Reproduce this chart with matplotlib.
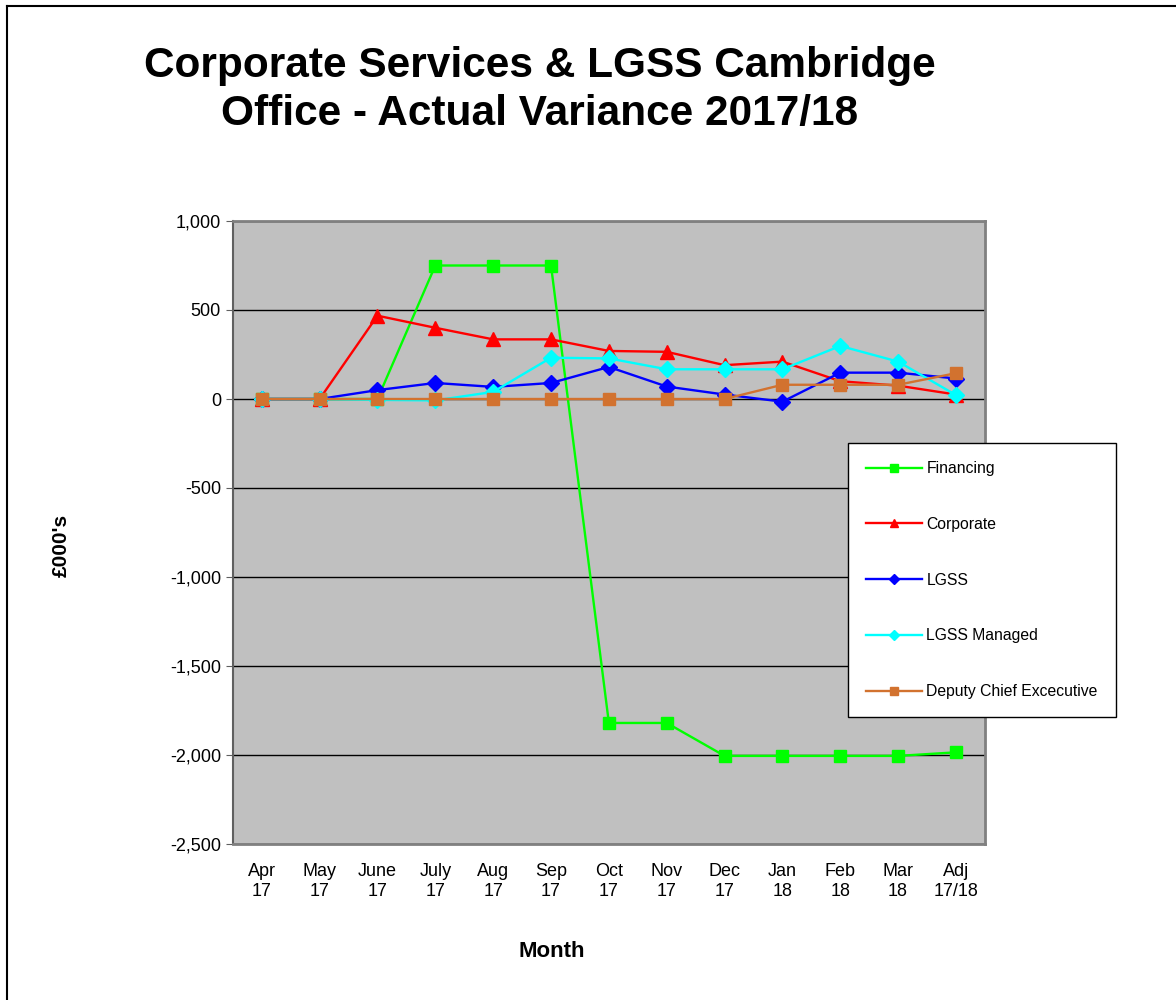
import matplotlib
matplotlib.use("Agg")
import matplotlib.pyplot as plt
from matplotlib.lines import Line2D

plt.rcParams['font.family'] = ['Liberation Sans', 'DejaVu Sans']

# data (£000's)
months = ["Apr\n17", "May\n17", "June\n17", "July\n17", "Aug\n17", "Sep\n17", "Oct\n17",
          "Nov\n17", "Dec\n17", "Jan\n18", "Feb\n18", "Mar\n18", "Adj\n17/18"]
financing = [0, 0, 0, 750, 750, 750, -1820, -1820, -2005, -2005, -2005, -2005, -1985]
corporate = [0, 0, 468, 400, 335, 335, 270, 265, 190, 210, 100, 75, 25]
lgss = [0, 0, 50, 90, 68, 90, 180, 70, 25, -15, 148, 148, 115]
lgss_managed = [0, 0, -5, -8, 40, 232, 228, 167, 167, 167, 298, 210, 22]
deputy_ce = [0, 0, 0, 0, 0, 0, 0, 0, 0, 80, 80, 80, 145]

fig = plt.figure(figsize=(11.76, 10), dpi=100)
# only left and top edges of the frame are visible
fig.lines.append(Line2D([0.0057, 0.0057], [0, 0.9945], transform=fig.transFigure,
                        color='black', linewidth=1.5))
fig.lines.append(Line2D([0.0057, 1], [0.9945, 0.9945], transform=fig.transFigure,
                        color='black', linewidth=1.5))

ax = fig.add_axes([0.198, 0.156, 0.6395, 0.623])
ax.set_facecolor('#C0C0C0')
x = list(range(len(months)))

ax.plot(x, financing, color='#00FF00', marker='s', markersize=9, linewidth=1.7, label='Financing')
ax.plot(x, corporate, color='#FF0000', marker='^', markersize=10, linewidth=1.7, label='Corporate')
ax.plot(x, lgss, color='#0000FF', marker='D', markersize=8, linewidth=1.7, label='LGSS')
ax.plot(x, lgss_managed, color='#00FFFF', marker='D', markersize=8, linewidth=1.7, label='LGSS Managed')
ax.plot(x, deputy_ce, color='#D2722F', marker='s', markersize=9, linewidth=1.7,
        label='Deputy Chief Excecutive')

ax.set_xlim(-0.5, 12.5)
ax.set_ylim(-2500, 1000)
ax.set_yticks(range(-2500, 1001, 500))
ax.set_yticklabels([f"{v:,}" for v in range(-2500, 1001, 500)])
ax.set_xticks(x)
ax.set_xticklabels(months)
ax.tick_params(axis='y', labelsize=13, length=5, color='#606060')
ax.tick_params(axis='x', labelsize=13, length=0, pad=14)
ax.grid(axis='y', color='black', linewidth=1)
ax.set_axisbelow(True)
for side in ['top', 'right', 'bottom']:
    ax.spines[side].set_color('#808080')
    ax.spines[side].set_linewidth(2)
ax.spines['left'].set_color('#606060')
ax.spines['left'].set_linewidth(1.5)

ax.set_ylabel("£000's", fontsize=15, fontweight='bold')
ax.yaxis.set_label_coords(-0.215, 0.48)
ax.set_xlabel("Month", fontsize=16, fontweight='bold')
ax.xaxis.set_label_coords(0.424, -0.155)

fig.text(0.459, 0.910, "Corporate Services & LGSS Cambridge\nOffice - Actual Variance 2017/18",
         ha='center', va='center', fontsize=30.5, fontweight='bold', linespacing=1.25)

leg = ax.legend(loc='upper left', bbox_to_anchor=(0.721, 0.557), bbox_transform=fig.transFigure,
                frameon=True, fancybox=False, edgecolor='black', framealpha=1,
                fontsize=11.3, markerscale=0.6, handlelength=3.6, labelspacing=2.6,
                borderpad=1.15, handletextpad=0.25, borderaxespad=0)
leg.get_frame().set_linewidth(1)

fig.savefig("out.png", dpi=100)
